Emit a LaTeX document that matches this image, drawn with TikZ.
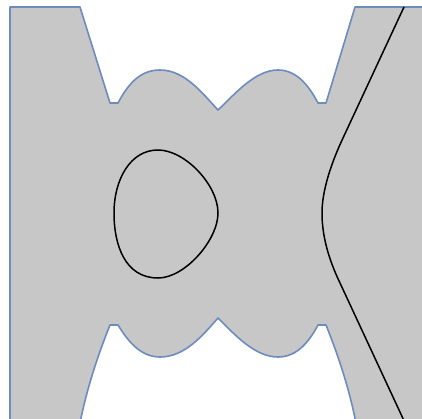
\documentclass[tikz,border=0pt]{standalone}
\definecolor{shapefill}{RGB}{199,199,199}
\definecolor{shapeline}{RGB}{108,140,192}
\tikzset{
  bodyshape/.style={fill=shapefill, draw=shapeline, line width=1.6pt, line join=round},
  blackcurve/.style={draw=black, line width=1.5pt}
}
\begin{document}
\begin{tikzpicture}[x=1pt,y=-1pt]
\useasboundingbox (0,0) rectangle (422,419);
\clip (0,0) rectangle (422,419);
\path[bodyshape]
  (10,440) -- (10,7) -- (80,7) -- (110,103) -- (118,103)
  .. controls (130,80) and (143,70) .. (160,70)
  .. controls (185,70) and (203,94) .. (218,110)
  .. controls (235,94) and (255,70) .. (278,70)
  .. controls (298,70) and (310,88) .. (318,103)
  -- (326,103) -- (355,7) -- (440,7) -- (440,440) -- (359,440)
  .. controls (352,395) and (338,355) .. (326,325)
  -- (318,325)
  .. controls (310,340) and (298,357) .. (278,357)
  .. controls (255,357) and (235,335) .. (218,318)
  .. controls (203,335) and (185,357) .. (160,357)
  .. controls (143,357) and (130,345) .. (118,325)
  -- (110,325)
  .. controls (98,355) and (84,395) .. (77,440)
  -- cycle;
\draw[blackcurve] (158,150) .. controls (185,150) and (218,185) .. (218,213)
  .. controls (218,240) and (185,278) .. (158,278)
  .. controls (125,278) and (114,245) .. (114,213)
  .. controls (114,180) and (130,150) .. cycle;
\draw[blackcurve] (404,7) -- (343,138)
  .. controls (328,170) and (322,195) .. (322,213)
  .. controls (322,235) and (328,258) .. (340,283) -- (406,425);
\end{tikzpicture}
\end{document}
